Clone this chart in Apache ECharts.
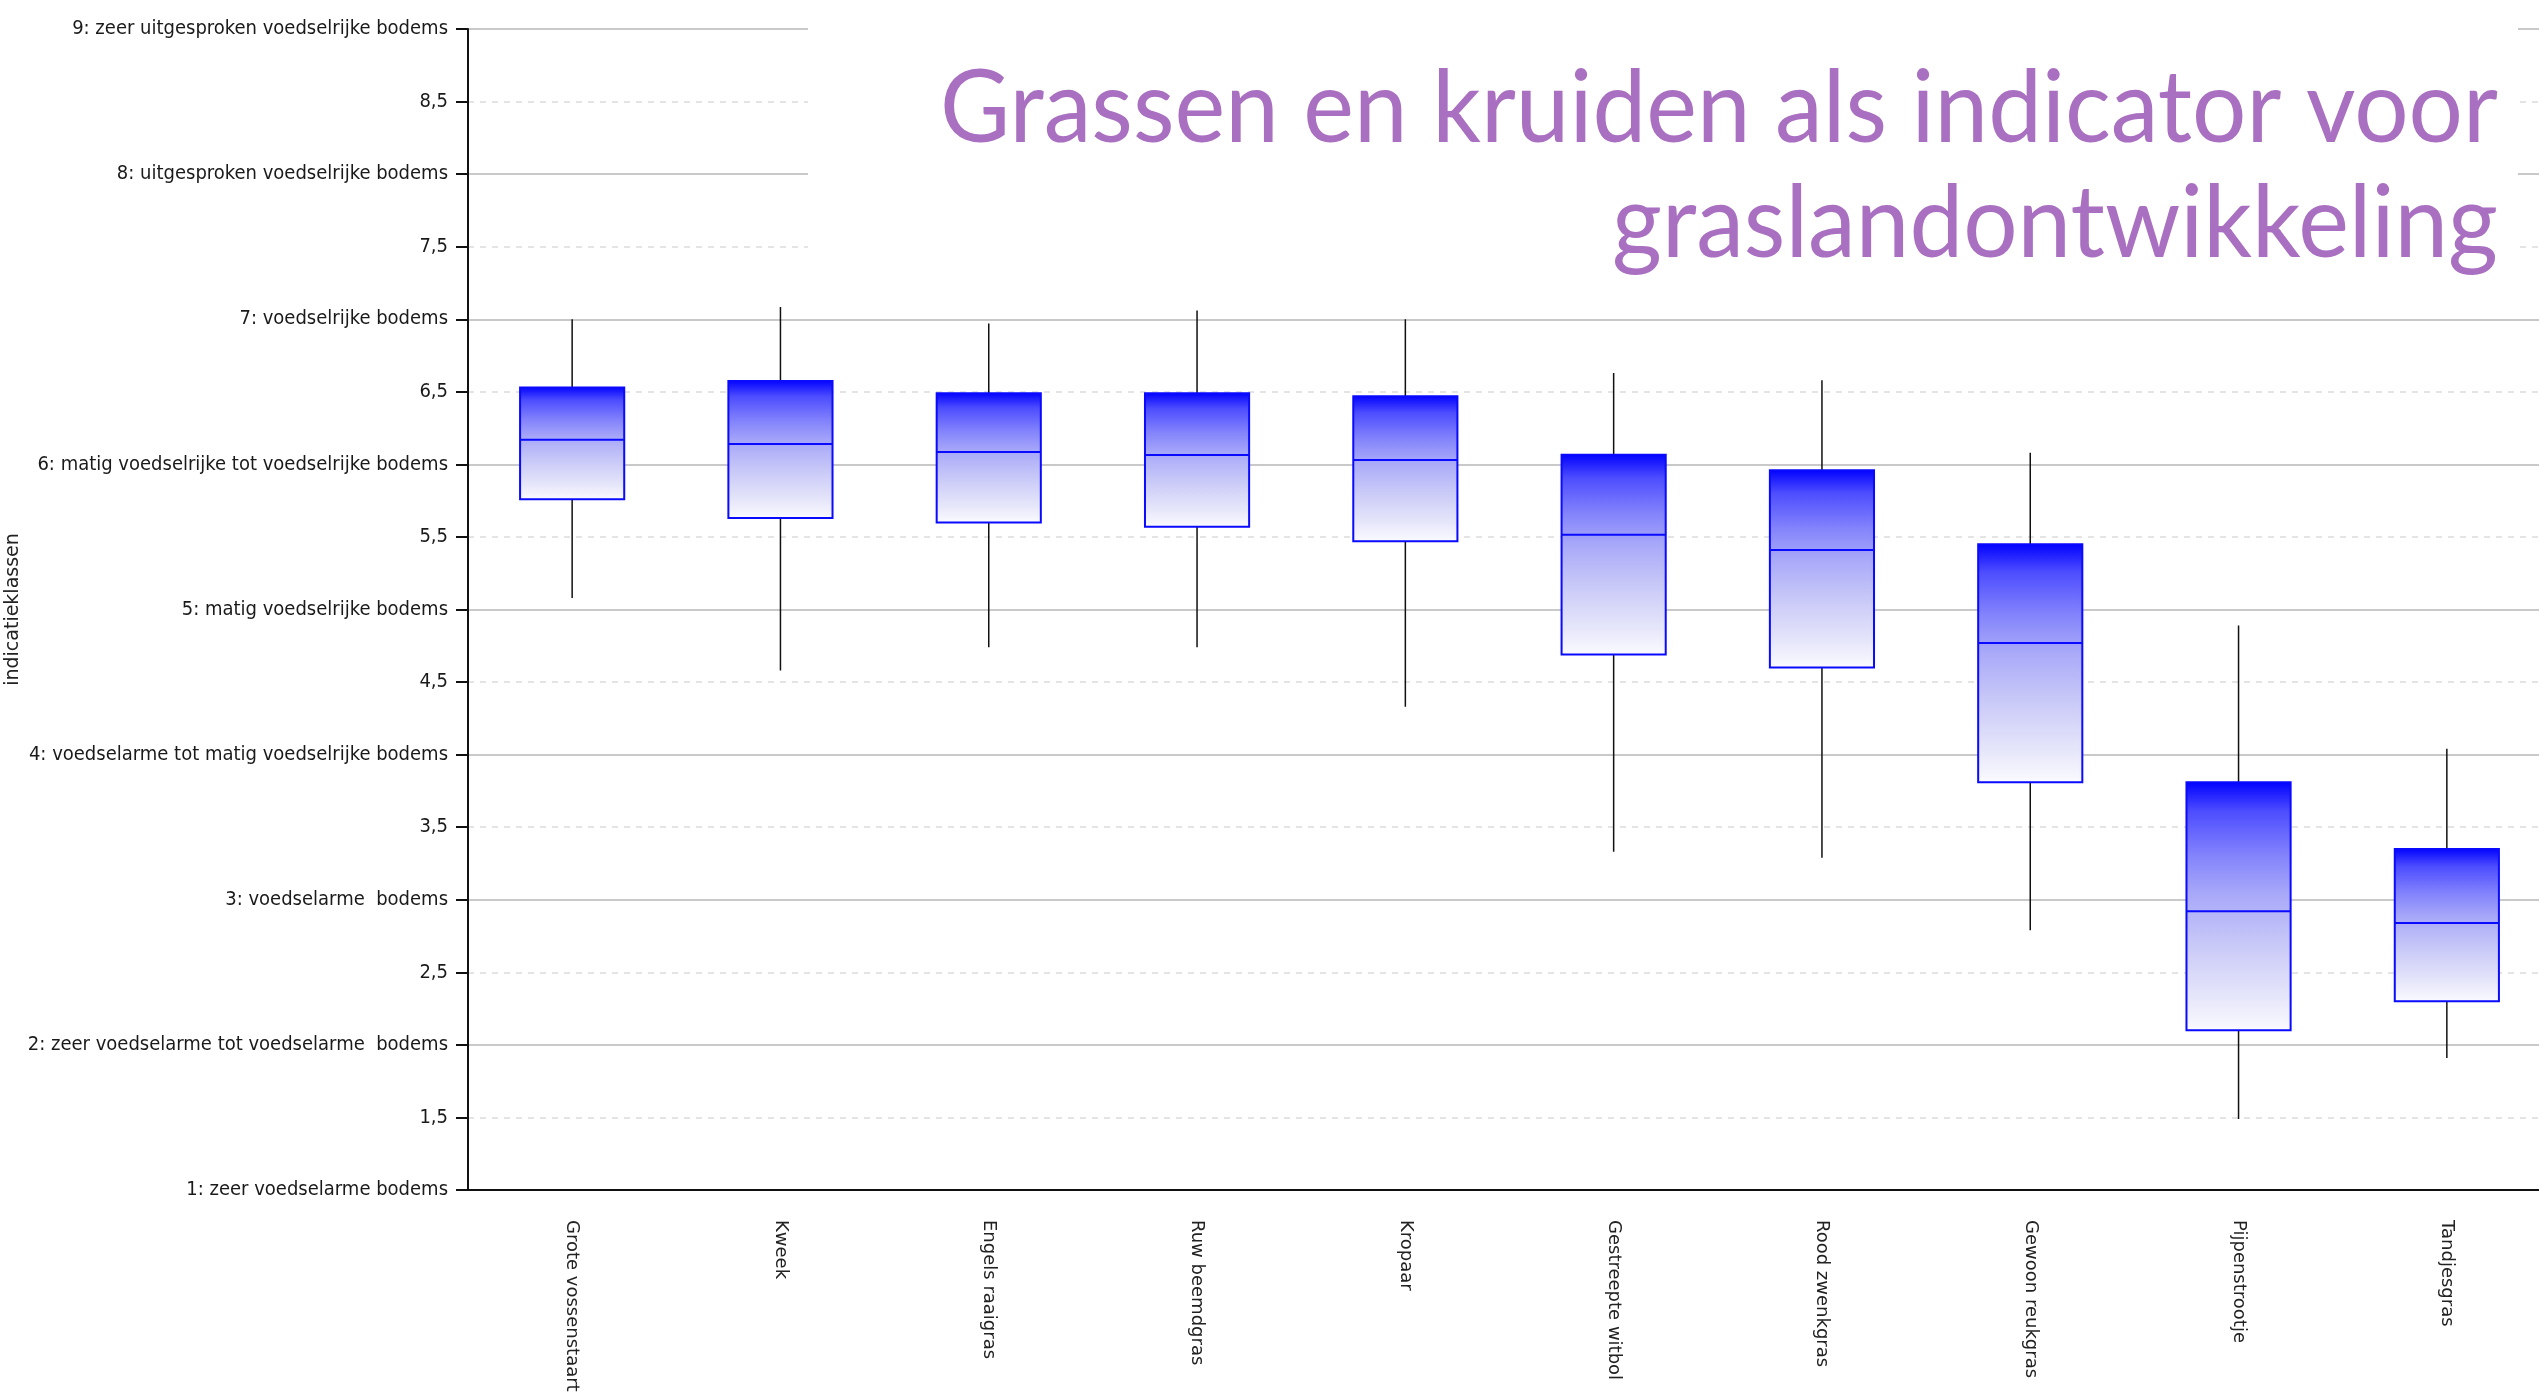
<!DOCTYPE html>
<html>
<head>
<meta charset="utf-8">
<script src="https://cdn.jsdelivr.net/npm/echarts@6/dist/echarts.min.js"></script>
<style>
  html, body { margin: 0; padding: 0; background: #fff; }
  #chart { width: 2539px; height: 1397px; }
</style>
</head>
<body>
<div id="chart"></div>
<script>
// soorten op de x-as
const categories = ['Grote vossenstaart', 'Kweek', 'Engels raaigras', 'Ruw beemdgras', 'Kropaar',
  'Gestreepte witbol', 'Rood zwenkgras', 'Gewoon reukgras', 'Pijpenstrootje', 'Tandjesgras']

// boxplot waarden per soort
const whiskerLow = [5.08, 4.58, 4.74, 4.74, 4.33, 3.33, 3.29, 2.79, 1.49, 1.91]
const q1 = [5.76, 5.63, 5.60, 5.57, 5.47, 4.69, 4.60, 3.81, 2.10, 2.30]
const median = [6.17, 6.14, 6.085, 6.065, 6.03, 5.515, 5.41, 4.77, 2.92, 2.84]
const q3 = [6.53, 6.575, 6.49, 6.49, 6.47, 6.067, 5.96, 5.45, 3.81, 3.35]
const whiskerHigh = [7.0, 7.085, 6.97, 7.06, 7.0, 6.63, 6.58, 6.08, 4.89, 4.04]

// labels van de indicatieklassen (1 t/m 9)
const classLabels = [
  '1: zeer voedselarme bodems',
  '2: zeer voedselarme tot voedselarme  bodems',
  '3: voedselarme  bodems',
  '4: voedselarme tot matig voedselrijke bodems',
  '5: matig voedselrijke bodems',
  '6: matig voedselrijke tot voedselrijke bodems',
  '7: voedselrijke bodems',
  '8: uitgesproken voedselrijke bodems',
  '9: zeer uitgesproken voedselrijke bodems',
]

const titleText = 'Grassen en kruiden als indicator voor\ngraslandontwikkeling'

const boxData = categories.map((c, i) => [i, whiskerLow[i], q1[i], median[i], q3[i], whiskerHigh[i]])

function yLabel(v) {
  if (Math.abs(v - Math.round(v)) < 1e-6) return classLabels[Math.round(v) - 1]
  return v.toFixed(1).replace('.', ',')
}

function renderBox(params, api) {
  const idx = api.value(0)
  const pLow = api.coord([idx, api.value(1)])
  const pQ1 = api.coord([idx, api.value(2)])
  const pMed = api.coord([idx, api.value(3)])
  const pQ3 = api.coord([idx, api.value(4)])
  const pHigh = api.coord([idx, api.value(5)])
  const w = api.size([1, 0])[0] * 0.5
  const x = pQ1[0]
  return {
    type: 'group',
    children: [
      {
        type: 'line',
        shape: { x1: x, y1: pHigh[1], x2: x, y2: pLow[1] },
        style: { stroke: '#111', lineWidth: 1.5 },
      },
      {
        type: 'rect',
        shape: { x: x - w / 2, y: pQ3[1], width: w, height: pQ1[1] - pQ3[1] },
        style: {
          fill: new echarts.graphic.LinearGradient(0, 0, 0, 1, [
            { offset: 0, color: '#0000ff' },
            { offset: 0.12, color: '#4d4dff' },
            { offset: 0.3, color: '#8484fc' },
            { offset: 0.45, color: '#a8a8f9' },
            { offset: 0.65, color: '#c8c8f8' },
            { offset: 0.85, color: '#e4e4fa' },
            { offset: 1, color: '#fbfbff' },
          ]),
          stroke: '#0a0aff',
          lineWidth: 2,
        },
      },
      {
        type: 'line',
        shape: { x1: x - w / 2, y1: pMed[1], x2: x + w / 2, y2: pMed[1] },
        style: { stroke: '#0a0aff', lineWidth: 2 },
      },
    ],
  }
}

const chart = echarts.init(document.getElementById('chart'))
chart.setOption({
  backgroundColor: '#fff',
  animation: false,
  graphic: [
    {
      // wit vlak achter de titel (verbergt de rasterlijnen)
      type: 'rect',
      z: 5,
      shape: { x: 808, y: 0, width: 1710, height: 285 },
      style: { fill: '#fff' },
    },
    {
      type: 'text',
      z: 10,
      x: 2498,
      y: 52,
      scaleX: 0.96,
      style: {
        text: titleText,
        align: 'right',
        verticalAlign: 'top',
        fontFamily: 'Lato, "Open Sans", sans-serif',
        fontSize: 100,
        lineHeight: 115,
        fill: '#a96fc1',
      },
    },
  ],
  grid: { left: 468, top: 29, width: 2083, height: 1161, containLabel: false, outerBoundsMode: 'none' },
  xAxis: {
    type: 'category',
    data: categories,
    boundaryGap: true,
    axisLine: { lineStyle: { color: '#111', width: 2 } },
    axisTick: { alignWithLabel: true, length: 17, lineStyle: { color: '#111', width: 1.5 } },
    axisLabel: {
      rotate: -90,
      margin: 30,
      color: '#222',
      fontFamily: '"DejaVu Sans", Verdana, sans-serif',
      fontSize: 18,
    },
    splitLine: { show: false },
  },
  yAxis: [
    {
      type: 'value',
      min: 1,
      max: 9,
      interval: 0.5,
      name: 'indicatieklassen',
      nameLocation: 'middle',
      nameRotate: 90,
      nameGap: 445,
      nameMoveOverlap: false,
      nameTextStyle: {
        color: '#222',
        fontFamily: '"DejaVu Sans", Verdana, sans-serif',
        fontSize: 19,
      },
      axisLine: { show: true, lineStyle: { color: '#111', width: 2 } },
      axisTick: { show: true, length: 12, lineStyle: { color: '#111', width: 2 } },
      axisLabel: {
        margin: 20,
        color: '#1a1a1a',
        fontFamily: '"DejaVu Sans Condensed", "Liberation Sans Narrow", "Liberation Sans", sans-serif',
        fontSize: 20,
        formatter: yLabel,
      },
      splitLine: { show: true, lineStyle: { color: '#e4e4e4', width: 2, type: [6, 6] } },
    },
    {
      type: 'value',
      min: 1,
      max: 9,
      interval: 1,
      axisLine: { show: false },
      axisTick: { show: false },
      axisLabel: { show: false },
      splitLine: { show: true, lineStyle: { color: '#c9c9c9', width: 2 } },
    },
  ],
  series: [
    {
      type: 'custom',
      name: 'indicatie',
      renderItem: renderBox,
      encode: { x: 0, y: [1, 2, 3, 4, 5] },
      data: boxData,
      z: 3,
    },
  ],
})
</script>
</body>
</html>
